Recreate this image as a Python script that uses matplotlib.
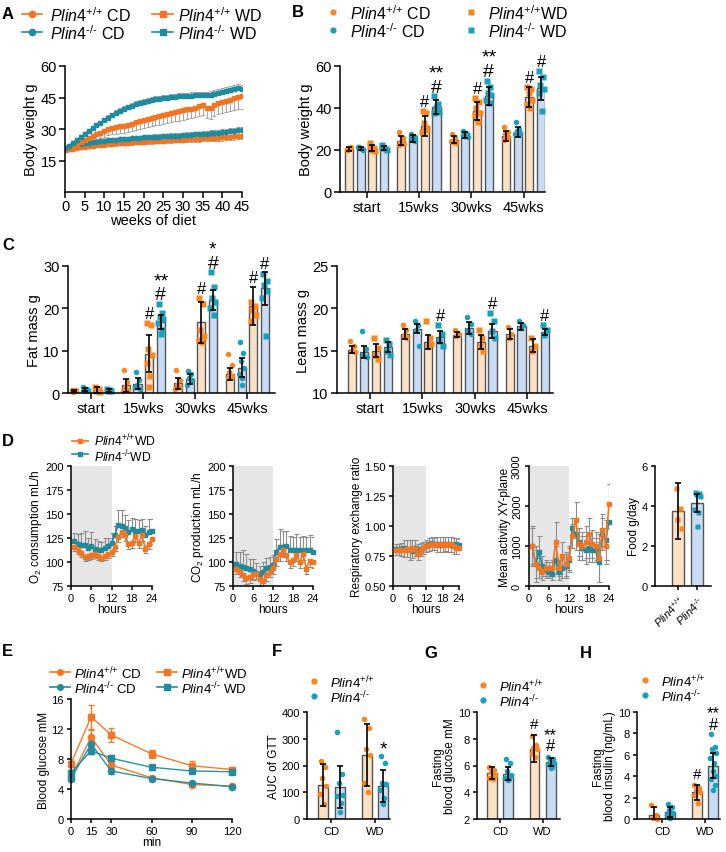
import numpy as np
import matplotlib
matplotlib.use('Agg')
import matplotlib.pyplot as plt

plt.rcParams['font.family'] = ['Liberation Sans', 'DejaVu Sans']
plt.rcParams['mathtext.fontset'] = 'custom'
plt.rcParams['mathtext.rm'] = 'Liberation Sans'
plt.rcParams['mathtext.it'] = 'Liberation Sans:italic'
plt.rcParams['axes.linewidth'] = 1.1

# ---------------- data ----------------
# A: body weight curves, weeks 0..45
wt_cd = [20.0, 20.3, 20.7, 21.0, 21.3, 21.5, 21.8, 22.0, 22.2, 22.4,
         22.6, 22.7, 22.9, 23.1, 23.2, 23.4, 23.5, 23.6, 23.8, 23.9,
         24.0, 24.1, 24.2, 24.4, 24.5, 24.5, 24.6, 24.8, 24.9, 25.0,
         25.0, 25.2, 25.3, 25.3, 25.4, 25.5, 25.5, 25.7, 25.8, 25.9,
         26.0, 26.2, 26.3, 26.5, 26.7, 26.8]
ko_cd = [21.0, 21.4, 21.9, 22.3, 22.7, 23.1, 23.4, 23.7, 24.0, 24.2,
         24.4, 24.6, 24.8, 25.0, 25.2, 25.3, 25.4, 25.6, 25.8, 25.9,
         26.0, 26.1, 26.2, 26.3, 26.4, 26.5, 26.6, 26.7, 26.8, 26.9,
         27.0, 27.1, 27.3, 27.4, 27.5, 27.6, 27.7, 27.9, 28.1, 28.3,
         28.5, 28.7, 28.9, 29.2, 29.4, 29.3]
wt_wd = [19.8, 20.6, 21.6, 22.6, 23.6, 24.6, 25.6, 26.5, 27.4, 28.2,
         29.0, 29.8, 30.4, 30.8, 31.2, 31.5, 32.0, 32.6, 33.2, 33.8,
         34.3, 34.8, 35.3, 35.8, 36.3, 36.8, 37.3, 37.7, 38.1, 38.5,
         38.9, 39.3, 39.7, 40.2, 40.8, 41.3, 40.2, 39.8, 41.2, 42.2,
         42.8, 43.4, 44.0, 44.6, 45.2, 45.6]
ko_wd = [20.8, 22.0, 23.4, 24.8, 26.2, 27.6, 29.0, 30.4, 31.8, 33.0,
         34.2, 35.4, 36.6, 37.7, 38.7, 39.6, 40.4, 41.1, 41.8, 42.4,
         42.9, 43.4, 43.8, 44.2, 44.5, 44.8, 45.0, 45.2, 45.4, 45.6,
         45.6, 45.7, 45.9, 46.0, 46.1, 46.2, 46.0, 46.3, 46.8, 47.3,
         47.8, 48.3, 48.7, 49.1, 49.5, 49.2]
wt_cd_err = [0.6, 0.6, 0.7, 0.7, 0.7, 0.8, 0.8, 0.8, 0.9, 0.9,
             0.9, 0.9, 1.0, 1.0, 1.0, 1.0, 1.1, 1.1, 1.1, 1.1,
             1.1, 1.2, 1.2, 1.2, 1.2, 1.2, 1.3, 1.3, 1.3, 1.3,
             1.3, 1.3, 1.4, 1.4, 1.4, 1.4, 1.4, 1.5, 1.5, 1.5,
             1.5, 1.5, 1.6, 1.6, 1.6, 1.6]
ko_cd_err = [0.5, 0.6, 0.6, 0.6, 0.7, 0.7, 0.7, 0.8, 0.8, 0.8,
             0.8, 0.9, 0.9, 0.9, 0.9, 1.0, 1.0, 1.0, 1.0, 1.0,
             1.1, 1.1, 1.1, 1.1, 1.1, 1.2, 1.2, 1.2, 1.2, 1.2,
             1.2, 1.3, 1.3, 1.3, 1.3, 1.3, 1.3, 1.4, 1.4, 1.4,
             1.4, 1.4, 1.5, 1.5, 1.5, 1.5]
wt_wd_err = [0.6, 0.8, 1.0, 1.2, 1.4, 1.6, 1.8, 2.0, 2.2, 2.4,
             2.6, 2.8, 3.0, 3.2, 3.3, 3.4, 3.5, 3.6, 3.7, 3.8,
             3.9, 4.0, 4.0, 4.1, 4.2, 4.2, 4.3, 4.4, 4.4, 4.5,
             4.5, 4.6, 4.6, 4.7, 4.7, 4.8, 4.8, 4.9, 4.9, 5.0,
             5.2, 5.4, 5.5, 5.6, 5.8, 6.0]
ko_wd_err = [0.6, 0.7, 0.7, 0.8, 0.8, 0.9, 0.9, 1.0, 1.0, 1.0,
             1.1, 1.1, 1.1, 1.2, 1.2, 1.2, 1.2, 1.3, 1.3, 1.3,
             1.3, 1.3, 1.4, 1.4, 1.4, 1.4, 1.4, 1.4, 1.5, 1.5,
             1.5, 1.5, 1.5, 1.5, 1.5, 1.6, 1.6, 1.6, 1.6, 1.6,
             1.6, 1.7, 1.7, 1.7, 1.7, 1.7]

# B/C bar groups; order per group: WT CD, KO CD, WT WD, KO WD
groups = ['start', '15wks', '30wks', '45wks']
bw_mean = [[20.5, 20.8, 21.0, 20.9], [24.5, 25.5, 31.5, 40.5],
           [25.0, 27.0, 38.5, 45.7], [26.7, 28.6, 45.2, 49.5]]
bw_sd = [[0.8, 0.7, 1.6, 1.0], [2.0, 1.5, 4.6, 3.2],
         [1.6, 1.4, 4.2, 4.2], [2.2, 2.3, 4.6, 5.5]]
bw_pts = [[[20.5, 21.2, 20.0, 21.0, 19.8], [21.5, 20.5, 21.0, 20.2, 21.2],
           [23.5, 21.0, 20.0, 19.5, 21.8], [22.5, 20.5, 21.0, 20.0, 21.5]],
          [[28.5, 25.5, 24.0, 23.0, 22.5, 24.5], [27.5, 26.0, 25.0, 24.5, 26.5],
           [38.5, 37.5, 33.0, 30.0, 28.5, 29.5, 31.0], [45.5, 42.0, 40.0, 38.0, 37.5, 41.0]],
          [[27.5, 25.5, 24.0, 23.5, 24.5], [29.0, 27.5, 26.5, 26.0, 27.0],
           [45.0, 43.0, 40.0, 37.5, 36.5, 33.5], [53.0, 50.0, 47.0, 46.0, 44.0, 42.5]],
          [[31.0, 28.5, 27.5, 26.0, 25.0], [33.5, 30.0, 29.0, 28.0, 27.5],
           [50.0, 49.0, 47.0, 44.0, 42.0, 40.0], [57.5, 55.0, 51.0, 49.0, 47.0, 38.5]]]

fat_mean = [[0.5, 0.8, 0.7, 0.6], [1.8, 2.2, 9.3, 16.8],
            [2.3, 3.4, 16.7, 22.0], [4.5, 6.0, 20.5, 24.7]]
fat_sd = [[0.3, 0.4, 0.6, 0.3], [1.5, 1.3, 4.3, 1.7],
          [1.3, 1.2, 4.8, 2.3], [1.4, 2.3, 4.5, 3.8]]
fat_pts = [[[0.8, 0.5, 0.3, 0.6], [1.3, 0.9, 0.5, 0.7], [1.5, 1.0, 0.5, 0.3], [1.0, 0.6, 0.5, 0.4]],
           [[5.5, 2.5, 1.5, 0.8, 0.5], [5.0, 3.0, 2.0, 1.0, 1.5],
            [16.5, 16.0, 10.5, 9.0, 7.0, 4.0, 1.5], [21.0, 19.0, 18.0, 17.5, 16.5, 15.0, 14.0]],
           [[5.5, 3.0, 2.0, 1.5, 1.0], [5.2, 4.5, 3.5, 3.0, 2.0],
            [22.5, 21.0, 15.0, 13.5, 12.5, 12.0], [28.5, 25.0, 22.5, 21.5, 20.0, 18.5]],
           [[9.2, 6.5, 5.0, 4.0, 3.5], [12.0, 9.5, 7.5, 6.0, 4.5, 3.5, 2.0],
            [21.5, 20.5, 19.5, 18.5, 17.0], [28.0, 26.5, 25.5, 24.0, 22.5, 13.5]]]

lean_mean = [[15.1, 14.8, 15.0, 15.4], [17.0, 17.6, 16.0, 16.6],
             [16.9, 17.7, 16.0, 17.3], [17.0, 17.9, 15.6, 17.2]]
lean_sd = [[0.4, 0.7, 0.8, 0.6], [0.6, 0.5, 0.8, 0.7],
           [0.3, 0.7, 0.8, 0.8], [0.6, 0.4, 0.8, 0.4]]
lean_pts = [[[16.2, 15.5, 15.0, 14.8], [17.3, 15.2, 14.5, 14.2], [16.5, 15.3, 14.5, 14.0], [16.3, 15.8, 15.0, 14.5]],
            [[18.0, 17.5, 16.8, 16.5], [18.5, 18.0, 17.5, 15.5], [18.5, 16.5, 15.5, 15.8], [18.0, 17.0, 16.2, 15.5]],
            [[17.5, 17.0, 16.7], [19.0, 18.2, 17.5, 17.0], [17.5, 16.5, 15.5, 15.0], [19.5, 18.5, 17.3, 16.5]],
            [[17.8, 17.0, 16.5], [18.5, 18.0, 17.7], [16.5, 15.5, 15.0], [18.0, 17.5, 16.8]]]

# D: indirect calorimetry, hourly
hours = np.arange(1, 25)
o2_wt = [116, 113, 109, 105, 106, 107, 108, 106, 104, 106, 108, 110,
         116, 126, 131, 128, 119, 120, 127, 120, 128, 114, 119, 124]
o2_ko = [122, 119, 118, 118, 115, 117, 114, 113, 112, 115, 117, 120,
         128, 139, 137, 135, 131, 134, 132, 132, 133, 128, 131, 132]
o2_wt_err = [5, 5, 4, 4, 4, 4, 4, 4, 3, 4, 4, 4, 5, 5, 5, 6, 5, 5, 6, 5, 6, 5, 5, 5]
o2_ko_err = [8, 10, 12, 14, 10, 14, 10, 9, 9, 10, 8, 10, 10, 15, 17, 14, 13, 12, 13, 12, 12, 10, 14, 13]
co2_wt = [93, 90, 86, 83, 84, 87, 88, 82, 80, 86, 90, 94,
          103, 108, 112, 107, 100, 102, 107, 100, 108, 93, 101, 100]
co2_ko = [98, 96, 95, 94, 93, 91, 89, 88, 90, 94, 95, 97,
          110, 116, 116, 117, 113, 112, 113, 112, 111, 112, 112, 110]
co2_wt_err = [6, 6, 6, 6, 6, 6, 6, 7, 6, 6, 6, 6, 7, 7, 7, 6, 6, 6, 6, 6, 6, 6, 6, 6]
co2_ko_err = [12, 14, 18, 14, 10, 12, 10, 8, 10, 10, 10, 10, 14, 18, 16, 15, 14, 14, 16, 14, 16, 14, 16, 16]
rer_wt = [0.80, 0.80, 0.80, 0.80, 0.81, 0.80, 0.82, 0.81, 0.77, 0.80, 0.82, 0.83,
          0.84, 0.85, 0.85, 0.84, 0.85, 0.84, 0.85, 0.84, 0.85, 0.83, 0.82, 0.82]
rer_ko = [0.81, 0.81, 0.81, 0.82, 0.81, 0.80, 0.79, 0.82, 0.80, 0.81, 0.82, 0.83,
          0.85, 0.86, 0.85, 0.85, 0.84, 0.85, 0.85, 0.85, 0.84, 0.84, 0.85, 0.84]
rer_err = [0.04, 0.04, 0.05, 0.06, 0.07, 0.08, 0.09, 0.06, 0.05, 0.05, 0.05, 0.05,
           0.05, 0.05, 0.05, 0.06, 0.07, 0.06, 0.06, 0.06, 0.07, 0.06, 0.05, 0.05]
act_wt = [1000, 550, 450, 350, 450, 450, 450, 1100, 450, 750, 550, 700,
          1250, 1650, 1050, 1000, 1100, 1300, 1050, 1000, 700, 1400, 1000, 2050]
act_ko = [1000, 550, 850, 500, 400, 350, 300, 650, 350, 450, 500, 650,
          1450, 1300, 1100, 950, 900, 950, 900, 900, 600, 1300, 1150, 1600]
act_wt_err = [500, 350, 250, 200, 200, 150, 200, 500, 200, 350, 300, 300,
              300, 450, 400, 350, 400, 400, 350, 350, 600, 400, 450, 500]
act_ko_err = [450, 450, 400, 250, 200, 150, 150, 350, 200, 250, 300, 300,
              250, 400, 350, 300, 350, 350, 300, 300, 500, 400, 500, 950]
food_mean = [3.75, 4.15]
food_sd = [1.4, 0.45]
food_pts = [[4.9, 3.9, 3.35, 2.9], [4.7, 4.65, 4.6, 4.5, 3.85, 3.7, 3.0]]

# E: glucose tolerance test
gtt_min = [0, 15, 30, 60, 90, 120]
gtt_wt_cd = [5.6, 10.9, 7.2, 5.5, 4.6, 4.4]
gtt_ko_cd = [5.4, 10.0, 6.4, 5.4, 4.8, 4.3]
gtt_wt_wd = [7.4, 13.6, 11.2, 8.7, 7.1, 6.6]
gtt_ko_wd = [6.2, 9.1, 8.1, 6.9, 6.4, 6.3]
gtt_wt_cd_err = [0.3, 1.0, 0.4, 0.2, 0.3, 0.2]
gtt_ko_cd_err = [0.3, 0.5, 0.4, 0.2, 0.2, 0.2]
gtt_wt_wd_err = [0.4, 1.6, 0.9, 0.5, 0.6, 0.4]
gtt_ko_wd_err = [0.3, 0.4, 0.4, 0.3, 0.3, 0.3]

# F/G/H: order per diet group: WT, KO
diets = ['CD', 'WD']
auc_mean = [[128, 120], [240, 125]]
auc_sd = [[78, 80], [115, 60]]
auc_pts = [[[215, 195, 155, 125, 95, 55], [325, 170, 135, 90, 85, 60, 25]],
           [[375, 340, 260, 240, 135, 100], [235, 210, 135, 130, 110, 80, 55]]]
glu_mean = [[5.45, 5.4], [7.25, 6.25]]
glu_sd = [[0.45, 0.5], [1.0, 0.3]]
glu_pts = [[[5.9, 5.7, 5.5, 5.3, 5.1, 5.0], [6.5, 6.2, 5.6, 5.3, 5.1, 5.0, 4.9]],
           [[8.2, 7.5, 7.3, 7.2, 6.9, 6.6], [6.6, 6.5, 6.4, 6.2, 6.1, 5.9, 5.8]]]
ins_mean = [[0.4, 0.65], [2.5, 5.0]]
ins_sd = [[0.7, 0.45], [0.7, 1.2]]
ins_pts = [[[1.3, 0.4, 0.1, 0.0], [1.4, 1.1, 0.8, 0.6, 0.4, 0.2, 0.1]],
           [[3.2, 2.9, 2.7, 2.5, 2.2, 1.5], [7.9, 6.7, 6.5, 6.2, 5.7, 5.2, 4.5, 4.0, 3.7, 3.2, 2.7]]]

# ---------------- style ----------------
OR = '#F5741F'
TE = '#1E8C9E'
DOT = ['#F8871E', '#1AA0BD']
FILL = ['#FDE1C5', '#C8DCF5']
EDGE = '#555555'
JIT = [-0.25, 0.2, -0.1, 0.3, -0.3, 0.1, 0.0, 0.25, -0.2, 0.15, -0.05]
WT = r'$\mathit{Plin4}^{\text{+/+}}$'
KO = r'$\mathit{Plin4}^{\text{-/-}}$'

W, H = 726, 853
fig = plt.figure(figsize=(7.26, 8.53), dpi=100)


def box(l, t, r, b):
    return fig.add_axes([l / W, 1 - b / H, (r - l) / W, (b - t) / H])


def style(ax, fs, tl=4):
    for s in ['top', 'right']:
        ax.spines[s].set_visible(False)
    ax.tick_params(labelsize=fs, length=tl, width=1.1, pad=2)


def bars(ax, means, sds, pts, offs, width, mks, ms, base=0):
    for g in range(len(means)):
        for k in range(len(means[g])):
            x = g + offs[k]
            ax.bar(x, means[g][k] - base, width, bottom=base, color=FILL[k % 2],
                   edgecolor=EDGE, lw=1.0, zorder=1)
            jx = x + np.array(JIT[:len(pts[g][k])]) * width
            ax.plot(jx, pts[g][k], ls='none', marker=mks[k], ms=ms, color=DOT[k % 2],
                    mec='none', zorder=2, clip_on=False)
            ax.errorbar(x, means[g][k], yerr=sds[g][k], fmt='none', ecolor='k',
                        elinewidth=1.2, capsize=2, capthick=1.2, zorder=3)


def mark(ax, x, y, text, fs=12, gap=1.3, ls=0.78):
    ax.annotate(text, (x, y), xytext=(0, gap), textcoords='offset points',
                ha='center', va='bottom', ma='center', fontsize=fs, linespacing=ls,
                annotation_clip=False)


def top(means, sds, pts, g, k):
    return max(max(pts[g][k]), means[g][k] + sds[g][k])


# ---------------- A ----------------
ax = box(65, 67, 242, 193)
weeks = np.arange(len(wt_cd))
zero = np.zeros(len(weeks))
for y, e, c, m, up in [(wt_cd, wt_cd_err, OR, 'o', False), (ko_cd, ko_cd_err, TE, 'o', True),
                       (wt_wd, wt_wd_err, OR, 's', False), (ko_wd, ko_wd_err, TE, 's', True)]:
    err = [zero, e] if up else [e, zero]
    ax.errorbar(weeks, y, yerr=err, fmt='none', ecolor='#A8A8A8', elinewidth=0.8,
                capsize=1.5, capthick=0.8, zorder=1)
    ax.plot(weeks, y, color=c, marker=m, ms=3.2, lw=1.3, mec=c, zorder=2)
ax.set_xlim(0, 45)
ax.set_ylim(0, 60)
ax.set_yticks([15, 30, 45, 60])
ax.set_xticks(range(0, 46, 5))
style(ax, 10.5)
ax.tick_params(axis='x', pad=1)
ax.set_xlabel('weeks of diet', fontsize=10.5, labelpad=0)
ax.set_ylabel('Body weight g', fontsize=10.5, labelpad=2)

# ---------------- B ----------------
offs4 = [-0.336, -0.112, 0.112, 0.336]
mk4 = ['o', 'o', 's', 's']
ax = box(340, 67, 545, 193)
bars(ax, bw_mean, bw_sd, bw_pts, offs4, 0.155, mk4, 4.0)
ax.set_xlim(-0.507, 3.41)
ax.set_ylim(0, 60)
ax.set_yticks([0, 20, 40, 60])
ax.set_xticks(range(4))
ax.set_xticklabels(groups)
style(ax, 10.5)
ax.set_ylabel('Body weight g', fontsize=10.5, labelpad=2)
for g in [1, 2]:
    mark(ax, g + offs4[2], top(bw_mean, bw_sd, bw_pts, g, 2), '#')
    mark(ax, g + offs4[3], top(bw_mean, bw_sd, bw_pts, g, 3), '**\n#', fs=14, gap=0.5)
mark(ax, 3 + offs4[2], top(bw_mean, bw_sd, bw_pts, 3, 2), '#')
mark(ax, 3 + offs4[3], top(bw_mean, bw_sd, bw_pts, 3, 3), '#')

# ---------------- C fat ----------------
ax = box(68, 267, 275, 394)
bars(ax, fat_mean, fat_sd, fat_pts, offs4, 0.155, mk4, 4.0)
ax.set_xlim(-0.448, 3.53)
ax.set_ylim(0, 30)
ax.set_yticks([0, 10, 20, 30])
ax.set_xticks(range(4))
ax.set_xticklabels(groups)
style(ax, 10.5)
ax.set_ylabel('Fat mass g', fontsize=10.5, labelpad=2)
mark(ax, 1 + offs4[2], top(fat_mean, fat_sd, fat_pts, 1, 2), '#')
mark(ax, 1 + offs4[3], top(fat_mean, fat_sd, fat_pts, 1, 3), '**\n#', fs=14, gap=0.5)
mark(ax, 2 + offs4[2], top(fat_mean, fat_sd, fat_pts, 2, 2), '#')
mark(ax, 2 + offs4[3], top(fat_mean, fat_sd, fat_pts, 2, 3), '*\n#', fs=14, gap=0.5)
mark(ax, 3 + offs4[2], top(fat_mean, fat_sd, fat_pts, 3, 2), '#')
mark(ax, 3 + offs4[3], top(fat_mean, fat_sd, fat_pts, 3, 3), '#')

# ---------------- C lean ----------------
ax = box(337, 267, 553, 394)
bars(ax, lean_mean, lean_sd, lean_pts, offs4, 0.155, mk4, 4.0, base=10)
ax.set_xlim(-0.63, 3.49)
ax.set_ylim(10, 25)
ax.set_yticks([10, 15, 20, 25])
ax.set_xticks(range(4))
ax.set_xticklabels(groups)
style(ax, 10.5)
ax.set_ylabel('Lean mass g', fontsize=10.5, labelpad=2)
for g in [1, 2, 3]:
    mark(ax, g + offs4[3], top(lean_mean, lean_sd, lean_pts, g, 3), '#')


# ---------------- D ----------------
def calor(l, r, wt, ko, wt_e, ko_e, ylim, yticks, ylabel, sym=False):
    ax = box(l, 467, r, 587)
    ax.axvspan(0, 12, color='#E6E6E6', lw=0, zorder=0)
    z = np.zeros(len(hours))
    if sym:
        ew, ek = wt_e, ko_e
    else:
        ew, ek = [wt_e, z], [z, ko_e]
    ax.errorbar(hours, ko, yerr=ek, fmt='none', ecolor='#8C8C8C', elinewidth=0.8,
                capsize=1.8, capthick=0.8, zorder=1)
    ax.errorbar(hours, wt, yerr=ew, fmt='none', ecolor='#8C8C8C', elinewidth=0.8,
                capsize=1.8, capthick=0.8, zorder=1)
    ax.plot(hours, ko, color=TE, marker='s', ms=3.2, lw=1.2, zorder=2, clip_on=False)
    ax.plot(hours, wt, color=OR, marker='s', ms=3.2, lw=1.2, zorder=3, clip_on=False)
    ax.set_xlim(0, 24)
    ax.set_ylim(*ylim)
    ax.set_yticks(yticks)
    ax.set_xticks([0, 6, 12, 18, 24])
    style(ax, 8, 3)
    ax.set_xlabel('hours', fontsize=8.5, labelpad=0)
    ax.set_ylabel(ylabel, fontsize=8.5, labelpad=1)
    return ax


calor(71, 152, o2_wt, o2_ko, o2_wt_err, o2_ko_err, (75, 200), [75, 100, 125, 150, 175, 200],
      r'O$_2$ consumption mL/h')
calor(233, 313, co2_wt, co2_ko, co2_wt_err, co2_ko_err, (75, 200), [75, 100, 125, 150, 175, 200],
      r'CO$_2$ production mL/h')
ax = calor(393, 459, rer_wt, rer_ko, rer_err, rer_err, (0.5, 1.5), [0.5, 0.75, 1.0, 1.25, 1.5],
           'Respiratory exchange ratio')
ax.set_yticklabels(['0.50', '0.75', '1.00', '1.25', '1.50'])
ax = calor(529, 609, act_wt, act_ko, act_wt_err, act_ko_err, (0, 3000), [0, 1000, 2000, 3000],
           'Mean activity XY-plane', sym=True)
for t in ax.get_yticklabels():
    t.set_rotation(90)
    t.set_va('center')

# food
ax = box(655, 467, 711, 587)
for k in range(2):
    ax.bar(k, food_mean[k], 0.63, color=FILL[k], edgecolor=EDGE, lw=1.0, zorder=1)
    ax.plot(k + np.array(JIT[:len(food_pts[k])]) * 0.5, food_pts[k], ls='none', marker='s',
            ms=3.6, color=DOT[k], mec='none', zorder=2)
    ax.errorbar(k, food_mean[k], yerr=food_sd[k], fmt='none', ecolor='k', elinewidth=1.2,
                capsize=2.5, capthick=1.2, zorder=3)
ax.set_xlim(-1.21, 1.74)
ax.set_ylim(0, 6)
ax.set_yticks([0, 2, 4, 6])
ax.set_xticks([0, 1])
ax.set_xticklabels([WT, KO], rotation=45, ha='right', rotation_mode='anchor')
style(ax, 8, 3)
ax.set_ylabel('Food g/day', fontsize=8.5, labelpad=1)

# ---------------- E ----------------
ax = box(71, 700, 232, 820)
for y, e, c, m in [(gtt_wt_cd, gtt_wt_cd_err, OR, 'o'), (gtt_ko_cd, gtt_ko_cd_err, TE, 'o'),
                   (gtt_wt_wd, gtt_wt_wd_err, OR, 's'), (gtt_ko_wd, gtt_ko_wd_err, TE, 's')]:
    ax.errorbar(gtt_min, y, yerr=e, color=c, marker=m, ms=4.5, lw=1.0, elinewidth=1.0,
                ecolor=c, capsize=2.5, capthick=1.0, clip_on=False, alpha=0.95)
ax.set_xlim(0, 120)
ax.set_ylim(0, 16)
ax.set_yticks([0, 4, 8, 12, 16])
ax.set_xticks(gtt_min)
style(ax, 8, 3)
ax.set_xlabel('min', fontsize=8.5, labelpad=0)
ax.set_ylabel('Blood glucose mM', fontsize=8.5, labelpad=1)

# ---------------- F G H ----------------
offs2 = [-0.19, 0.19]


def small(l, r, cen, means, sds, pts, ylim, yticks, ylabel):
    ax = box(l, 713, r, 820)
    bars(ax, means, sds, pts, offs2, 0.23, ['o', 'o'], 4.0, base=ylim[0])
    ax.set_xlim(*cen)
    ax.set_ylim(*ylim)
    ax.set_yticks(yticks)
    ax.set_xticks([0, 1])
    ax.set_xticklabels(diets)
    style(ax, 8, 3)
    ax.set_ylabel(ylabel, fontsize=8.5, labelpad=1, linespacing=1.0)
    return ax


ax = small(307, 390, (-0.56, 1.34), auc_mean, auc_sd, auc_pts, (0, 400), [0, 100, 200, 300, 400],
           'AUC of GTT')
mark(ax, 1 + offs2[1], top(auc_mean, auc_sd, auc_pts, 1, 1), '*', fs=14, gap=-1)
ax = small(477, 560, (-0.54, 1.41), glu_mean, glu_sd, glu_pts, (2, 10), [2, 4, 6, 8, 10],
           'Fasting\nblood glucose mM')
mark(ax, 1 + offs2[0], top(glu_mean, glu_sd, glu_pts, 1, 0), '#', fs=11, gap=3.5)
mark(ax, 1 + offs2[1], top(glu_mean, glu_sd, glu_pts, 1, 1), '**\n#', fs=12, gap=3.0, ls=0.72)
ax = small(637, 720, (-0.58, 1.35), ins_mean, ins_sd, ins_pts, (0, 10), [0, 2, 4, 6, 8, 10],
           'Fasting\nblood insulin (ng/mL)')
mark(ax, 1 + offs2[0], top(ins_mean, ins_sd, ins_pts, 1, 0), '#', fs=11, gap=2.5)
mark(ax, 1 + offs2[1], top(ins_mean, ins_sd, ins_pts, 1, 1), '**\n#', fs=12, gap=2.0, ls=0.72)

# ---------------- overlay: letters and legends ----------------
ov = fig.add_axes([0, 0, 1, 1], zorder=10)
ov.set_xlim(0, W)
ov.set_ylim(H, 0)
ov.axis('off')
ov.patch.set_alpha(0)

for lab, x, y in [('A', 2, 14), ('B', 292, 12), ('C', 2, 245), ('D', 2, 442),
                  ('E', 2, 652), ('F', 272, 652), ('G', 424, 653), ('H', 580, 653)]:
    ov.text(x, y, lab, fontsize=12, fontweight='bold', va='center', ha='left')


def leg_line(x0, x1, y, c, m, label, tx, fs, ms):
    ov.plot([x0, x1], [y, y], color=c, lw=1.2)
    ov.plot([(x0 + x1) / 2], [y], marker=m, color=c, ms=ms)
    if label:
        ov.text(tx, y + 1, label, fontsize=fs, va='center', ha='left')


def leg_dot(x, y, c, m, label, tx, fs, ms):
    ov.plot([x], [y], marker=m, color=c, ms=ms, mec='none')
    ov.text(tx, y + 1, label, fontsize=fs, va='center', ha='left')


# A legend
leg_line(22, 42, 15, OR, 'o', WT + ' CD', 50, 11.5, 4.5)
leg_line(22, 42, 33, TE, 'o', KO + ' CD', 50, 11.5, 4.5)
leg_line(152, 173, 15, OR, 's', WT + ' WD', 178, 11.5, 4.5)
leg_line(152, 173, 33, TE, 's', KO + ' WD', 178, 11.5, 4.5)
# B legend
leg_dot(333, 13, DOT[0], 'o', WT + ' CD', 350, 11.5, 4.5)
leg_dot(333, 31, DOT[1], 'o', KO + ' CD', 350, 11.5, 4.5)
leg_dot(471, 13, DOT[0], 's', WT + 'WD', 488, 11.5, 4.5)
leg_dot(471, 31, DOT[1], 's', KO + ' WD', 488, 11.5, 4.5)
# D legend (both rows in one text block)
leg_line(72, 88, 442, OR, 's', None, 94, 8.8, 3.5)
leg_line(72, 88, 455, TE, 's', None, 94, 8.8, 3.5)
ov.text(94, 449, WT + 'WD\n' + KO + 'WD', fontsize=8.8, va='center', ha='left',
        linespacing=0.95)
# E legend
leg_line(50, 70, 673, OR, 'o', WT + ' CD', 74, 9.5, 4)
leg_line(50, 70, 688, TE, 'o', KO + ' CD', 74, 9.5, 4)
leg_line(157, 177, 673, OR, 's', WT + 'WD', 181, 9.5, 4)
leg_line(157, 177, 688, TE, 's', KO + ' WD', 181, 9.5, 4)
# F G H legends
for x, y0 in [(314, 682), (483, 686), (645, 681)]:
    leg_dot(x, y0, DOT[0], 'o', WT, x + 16, 9.5, 4.5)
    leg_dot(x, y0 + 15, DOT[1], 'o', KO, x + 16, 9.5, 4.5)

fig.savefig('out.png', dpi=100)
